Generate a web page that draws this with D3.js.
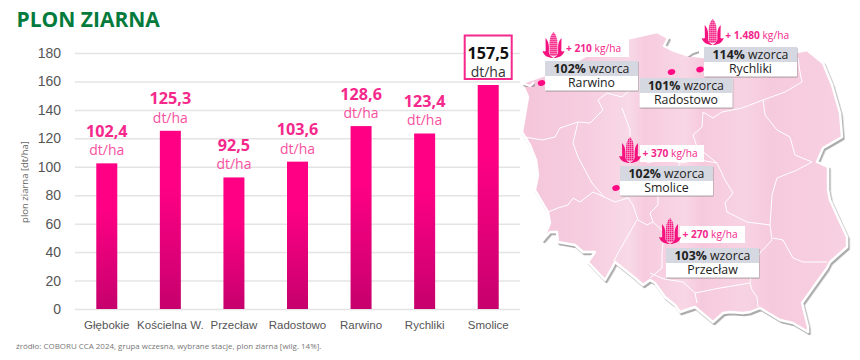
<!DOCTYPE html>
<html lang="pl">
<head>
  <meta charset="UTF-8">
  <title>Plon ziarna</title>
  <script src="https://d3js.org/d3.v7.min.js"></script>
  <style>
    html, body { margin: 0; padding: 0; background: #fff; }
    svg { display: block; font-family: "Open Sans", sans-serif; }
    .y-axis text { font-size: 14px; fill: #555; }
    .x-axis text { font-size: 11.5px; fill: #555; }
    .y-axis line { stroke: #e4e4e4; stroke-width: 1.5px; }
  </style>
</head>
<body>
<script>
  const stations = ["Głębokie", "Kościelna W.", "Przecław", "Radostowo", "Rarwino", "Rychliki", "Smolice"];
  const yields = [102.4, 125.3, 92.5, 103.6, 128.6, 123.4, 157.5];
  const yTicks = [0, 20, 40, 60, 80, 100, 120, 140, 160, 180];

  const mapStations = ["Rarwino", "Radostowo", "Rychliki", "Smolice", "Przecław"];
  const mapPercents = ["102%", "101%", "114%", "102%", "103%"];
  const mapGains = ["+ 210", null, "+ 1.480", "+ 370", "+ 270"];

  // callout placement on the map: card corner, dot, corn icon
  const cardPos = [[545, 61], [639.5, 78], [704, 47], [620, 166], [666, 248]];
  const dotPos = [[541.5, 83], [671.5, 72], [700, 69.5], [616, 188], null];
  const cornPos = [[553.5, 32], null, [712.7, 19], [630, 137], [670, 218]];
  const pillBox = [[566, 40, 63], null, null, [640, 145, 64], [680, 226, 65]];

  // traced outline of the country, in page pixels
  const outline = [[522,83],[545,75],[575,62],[600,48],[630,38],[657,32],[668,38],[664,46],[672,50],[687,55],[703,57],[760,52],[797,52],[807,50],[823,63],[832,85],[840,113],[842,137],[823,148],[817,162],[828,167],[828,190],[830,200],[840,222],[847,237],[847,247],[830,262],[827,268],[802,303],[808,327],[808,332],[793,323],[780,320],[760,308],[750,312],[743,313],[730,312],[723,313],[713,322],[707,317],[695,307],[680,312],[675,305],[665,297],[655,283],[650,280],[643,285],[635,278],[625,270],[615,262],[612,268],[605,280],[588,262],[595,252],[583,252],[575,245],[558,242],[557,232],[550,232],[543,240],[550,223],[548,212],[535,190],[538,175],[536,160],[530,145],[522,132],[528,97]];

  const borders = [
    [[525,137],[542,140],[555,137],[560,128],[578,122],[590,123],[603,110],[598,100],[607,93],[622,97],[630,90]],
    [[578,122],[573,143],[578,157],[592,183],[605,198]],
    [[548,212],[558,208],[568,205],[573,198],[580,202],[593,192],[600,195],[615,202],[628,198],[633,205],[638,220],[647,225],[653,222],[650,213],[658,205],[658,195],[665,190]],
    [[637,220],[618,253],[614,261]],
    [[653,222],[664,232],[662,253],[662,268],[650,278]],
    [[650,273],[664,279],[683,282],[695,293],[697,303]],
    [[695,293],[720,288],[750,283],[752,290],[757,297],[758,307]],
    [[750,283],[752,268],[760,253],[772,240],[770,225]],
    [[773,238],[783,240],[793,258],[803,262],[827,262]],
    [[770,225],[772,195],[777,178],[797,170],[812,162]],
    [[812,162],[795,155],[790,137],[777,130],[765,115],[763,100]],
    [[703,112],[713,118],[722,112],[742,108],[763,100],[785,92],[802,82],[800,72],[798,58]],
    [[703,112],[702,127],[693,135],[697,147],[707,155],[717,163],[725,180],[733,193],[725,203],[727,212],[747,222],[770,225]],
    [[622,108],[630,130],[630,142],[640,158],[648,163]],
    [[648,163],[665,158],[680,163],[700,160],[717,163]],
    [[665,190],[680,163]]
  ];

  // lagoon and spit cut-outs along the coast
  const coastBits = [
    [[522,83],[530,86],[534,82]],
    [[686,56],[692,52],[698,50]]
  ];

  const margin = { top: 53, right: 340, bottom: 51, left: 75 };
  const width = 860 - margin.left - margin.right;
  const height = 360 - margin.top - margin.bottom;

  const root = d3.select("body").append("svg")
    .attr("width", 860)
    .attr("height", 360);

  const defs = root.append("defs");

  const barGrad = defs.append("linearGradient")
    .attr("id", "barGrad")
    .attr("x1", 0).attr("y1", 0).attr("x2", 0).attr("y2", 1);
  barGrad.append("stop").attr("offset", "30%").attr("stop-color", "#ff0084");
  barGrad.append("stop").attr("offset", "100%").attr("stop-color", "#c6006d");

  const mapGrad = defs.append("linearGradient")
    .attr("id", "mapGrad")
    .attr("gradientUnits", "userSpaceOnUse")
    .attr("x1", 520).attr("y1", 0).attr("x2", 850).attr("y2", 0);
  [[0, "#f5c5da"], [0.2, "#f6cde0"], [0.33, "#f8d9e6"], [0.38, "#f6cbde"], [0.5, "#f8d7e5"], [0.55, "#f6cadd"], [0.68, "#f7d3e2"], [0.76, "#f6cadd"], [1, "#f7d1e2"]]
    .forEach(s => mapGrad.append("stop").attr("offset", s[0]).attr("stop-color", s[1]));

  const shadow = defs.append("filter").attr("id", "mapShadow")
    .attr("x", "-5%").attr("y", "-5%").attr("width", "110%").attr("height", "110%");
  shadow.append("feDropShadow")
    .attr("dx", 1.5).attr("dy", 2).attr("stdDeviation", 0.7)
    .attr("flood-color", "#888").attr("flood-opacity", 0.7);

  const cardShadow = defs.append("filter").attr("id", "cardShadow")
    .attr("x", "-5%").attr("y", "-10%").attr("width", "110%").attr("height", "125%");
  cardShadow.append("feDropShadow")
    .attr("dx", 0.5).attr("dy", 1).attr("stdDeviation", 0.6)
    .attr("flood-color", "#777").attr("flood-opacity", 0.7);

  const cornGrid = defs.append("pattern").attr("id", "cornGrid")
    .attr("patternUnits", "userSpaceOnUse").attr("width", 2).attr("height", 2);
  cornGrid.append("rect").attr("width", 2).attr("height", 2).attr("fill", "#fbb6d6");
  cornGrid.append("rect").attr("width", 1.5).attr("height", 1.5).attr("fill", "#f5127f");

  root.append("text")
    .attr("x", 16.5).attr("y", 27)
    .attr("font-size", 21).attr("font-weight", 700).attr("fill", "#047a3c")
    .text("PLON ZIARNA");

  const svg = root.append("g")
    .attr("transform", "translate(" + margin.left + "," + margin.top + ")");

  const x = d3.scaleBand().domain(stations).range([0, width]);
  const y = d3.scaleLinear().domain([0, 180]).range([height, 0]);

  svg.append("g")
    .attr("class", "y-axis")
    .call(d3.axisLeft(y).tickValues(yTicks).tickSize(-width).tickPadding(14))
    .call(g => g.select(".domain").remove());

  svg.append("g")
    .attr("class", "x-axis")
    .attr("transform", "translate(0," + height + ")")
    .call(d3.axisBottom(x).tickSize(0).tickPadding(12))
    .call(g => g.select(".domain").remove());

  svg.selectAll(".bar")
    .data(stations)
    .enter().append("rect")
    .attr("class", "bar")
    .attr("x", d => x(d) + x.bandwidth() / 2 - 10.5)
    .attr("width", 21)
    .attr("y", (d, i) => y(yields[i]))
    .attr("height", (d, i) => height - y(yields[i]))
    .attr("fill", "url(#barGrad)");

  const fmt = v => v.toFixed(1).replace(".", ",");
  const last = stations.length - 1;

  // frame around the best result
  svg.append("rect")
    .attr("x", x(stations[last]) + x.bandwidth() / 2 - 23.5)
    .attr("y", y(yields[last]) - 49.5)
    .attr("width", 47)
    .attr("height", 43.5)
    .attr("fill", "#fff")
    .attr("stroke", "#f5288c")
    .attr("stroke-width", 2);

  svg.selectAll(".val")
    .data(stations)
    .enter().append("text")
    .attr("class", "val")
    .attr("x", d => x(d) + x.bandwidth() / 2)
    .attr("y", (d, i) => y(yields[i]) - 26.5)
    .attr("text-anchor", "middle")
    .attr("font-size", 16.2)
    .attr("font-weight", 700)
    .attr("fill", (d, i) => i === last ? "#111" : "#f5288c")
    .text((d, i) => fmt(yields[i]));

  svg.selectAll(".unit")
    .data(stations)
    .enter().append("text")
    .attr("class", "unit")
    .attr("x", d => x(d) + x.bandwidth() / 2)
    .attr("y", (d, i) => y(yields[i]) - 8)
    .attr("text-anchor", "middle")
    .attr("font-size", 14)
    .attr("fill", (d, i) => i === last ? "#333" : "#f7519f")
    .text("dt/ha");

  root.append("text")
    .attr("transform", "translate(28,182) rotate(-90)")
    .attr("text-anchor", "middle")
    .attr("font-size", 9.5)
    .attr("fill", "#666")
    .text("plon ziarna [dt/ha]");

  root.append("text")
    .attr("x", 16).attr("y", 349)
    .attr("font-size", 7.95)
    .attr("fill", "#777")
    .text("źródło: COBORU CCA 2024, grupa wczesna, wybrane stacje, plon ziarna [wilg. 14%].");

  // map
  const mapLine = d3.line();
  const map = root.append("g");

  map.append("path")
    .attr("d", mapLine(outline) + "Z")
    .attr("fill", "url(#mapGrad)")
    .attr("stroke", "#fff")
    .attr("stroke-width", 2.4)
    .attr("stroke-linejoin", "round")
    .attr("filter", "url(#mapShadow)");

  map.selectAll(".border")
    .data(borders)
    .enter().append("path")
    .attr("class", "border")
    .attr("d", mapLine)
    .attr("fill", "none")
    .attr("stroke", "#fff")
    .attr("stroke-width", 1)
    .attr("stroke-linejoin", "round");

  map.selectAll(".coast")
    .data(coastBits)
    .enter().append("path")
    .attr("class", "coast")
    .attr("d", mapLine)
    .attr("fill", "none")
    .attr("stroke", "#fff")
    .attr("stroke-width", 2)
    .attr("filter", "url(#mapShadow)");

  const cornEar = "M0,0C3.5,3 4.2,9 4,14L4,22C3,25 -3,25 -4,22L-4,14C-4.2,9 -3.5,3 0,0Z";
  const cornLeaf = "M-8,6C-6,8 -4.6,11 -4.6,15L-4.6,21C-4,23 -2,25 0,26C-5,26 -9.5,24 -11,19C-9.5,19.5 -8.5,19.5 -7.8,19Z";

  mapStations.forEach((name, i) => {
    const card = cardPos[i];
    const g = map.append("g");

    if (pillBox[i]) {
      g.append("rect")
        .attr("x", pillBox[i][0]).attr("y", pillBox[i][1])
        .attr("width", pillBox[i][2]).attr("height", 17)
        .attr("fill", "#fff");
    }

    g.append("rect")
      .attr("x", card[0]).attr("y", card[1])
      .attr("width", 93).attr("height", 29.5)
      .attr("fill", "#fff")
      .attr("filter", "url(#cardShadow)");
    g.append("rect")
      .attr("x", card[0]).attr("y", card[1])
      .attr("width", 93).attr("height", 15)
      .attr("fill", "#d5d8e0");

    const head = g.append("text")
      .attr("x", card[0] + 46.5).attr("y", card[1] + 11.6)
      .attr("text-anchor", "middle")
      .attr("font-size", 12.3)
      .attr("fill", "#222");
    head.append("tspan").attr("font-weight", 700).text(mapPercents[i]);
    head.append("tspan").text(" wzorca");

    g.append("text")
      .attr("x", card[0] + 46.5).attr("y", card[1] + 26)
      .attr("text-anchor", "middle")
      .attr("font-size", 12.3)
      .attr("fill", "#222")
      .text(name);

    if (dotPos[i]) {
      g.append("ellipse")
        .attr("transform", "translate(" + dotPos[i] + ") rotate(-15)")
        .attr("rx", 3.8).attr("ry", 2.9)
        .attr("fill", "#ff0a82");
    }

    if (cornPos[i]) {
      const corn = g.append("g")
        .attr("transform", "translate(" + cornPos[i] + ")");
      corn.append("path").attr("d", cornEar).attr("fill", "url(#cornGrid)");
      corn.append("path").attr("d", cornLeaf).attr("fill", "#f5127f");
      corn.append("path").attr("d", cornLeaf).attr("fill", "#f5127f").attr("transform", "scale(-1,1)");

      const gain = g.append("text")
        .attr("x", cornPos[i][0] + 12.5).attr("y", cornPos[i][1] + 19.5)
        .attr("font-size", 10.2)
        .attr("fill", "#f5288c");
      gain.append("tspan").attr("font-weight", 700).text(mapGains[i]);
      gain.append("tspan").text(" kg/ha");
    }
  });
</script>
</body>
</html>
